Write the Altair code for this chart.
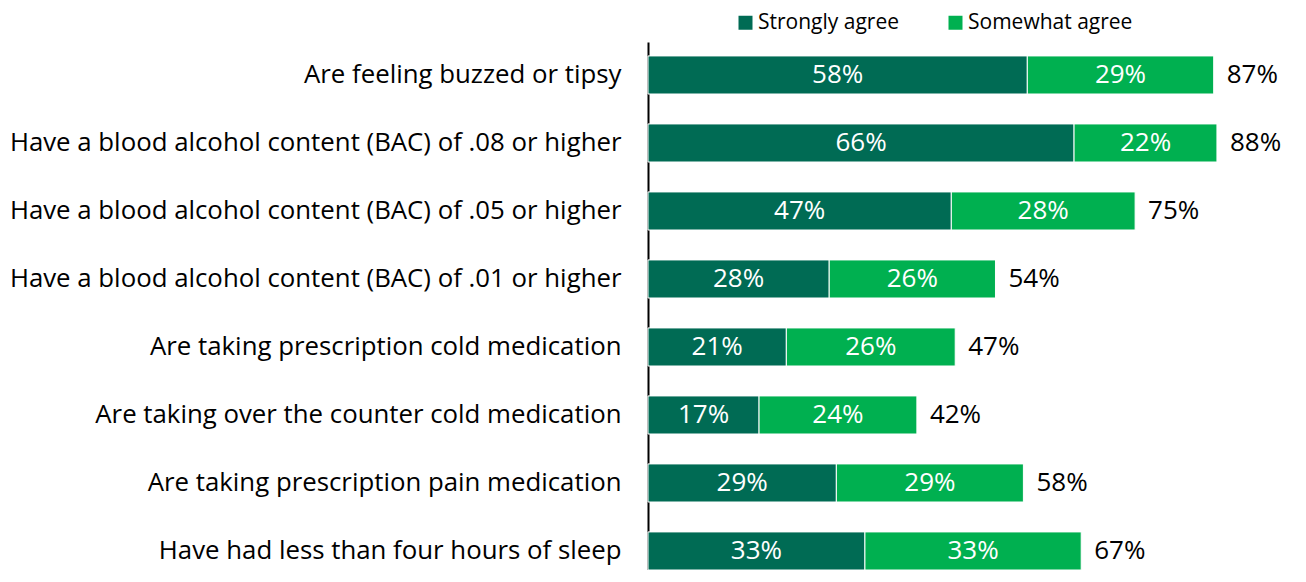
import altair as alt
import pandas as pd

categories = [
    "Are feeling buzzed or tipsy",
    "Have a blood alcohol content (BAC) of .08 or higher",
    "Have a blood alcohol content (BAC) of .05 or higher",
    "Have a blood alcohol content (BAC) of .01 or higher",
    "Are taking prescription cold medication",
    "Are taking over the counter cold medication",
    "Are taking prescription pain medication",
    "Have had less than four hours of sleep",
]
strongly_agree = [58.4, 65.6, 46.7, 27.9, 21.3, 17.1, 29.0, 33.4]
somewhat_agree = [28.7, 22.0, 28.3, 25.6, 26.0, 24.3, 28.8, 33.3]
total_labels = [87, 88, 75, 54, 47, 42, 58, 67]
series_names = ["Strongly agree", "Somewhat agree"]
series_colors = ["#006B54", "#00B050"]

FONT = "Open Sans"
AX_FS = 25.8
FS = 26
LEG_FS = 21

rows = []
for i, c in enumerate(categories):
    rows.append({"category": c, "series": series_names[0], "value": strongly_agree[i], "rank": 0})
    rows.append({"category": c, "series": series_names[1], "value": somewhat_agree[i], "rank": 1})
long_df = pd.DataFrame(rows)
tot_df = pd.DataFrame({
    "category": categories,
    "end": [a + b for a, b in zip(strongly_agree, somewhat_agree)],
    "total": total_labels,
})

x_scale = alt.Scale(domain=[0, 97], nice=False, zero=True)
y_scale = alt.Scale(paddingInner=0.44, paddingOuter=0.1024, align=1)

y_axis = alt.Axis(
    title=None, domainColor="black", domainWidth=2, ticks=False,
    labelFont=FONT, labelFontSize=AX_FS, labelColor="black",
    labelPadding=27, labelLimit=800, grid=False,
)

bars = alt.Chart(long_df).mark_bar(stroke="white", strokeWidth=1).encode(
    x=alt.X("value:Q", stack="zero", scale=x_scale, axis=None),
    y=alt.Y("category:N", sort=categories, scale=y_scale, axis=y_axis),
    color=alt.Color(
        "series:N", sort=series_names,
        scale=alt.Scale(domain=series_names, range=series_colors),
        legend=alt.Legend(
            title=None, orient="none", legendX=87, legendY=-30,
            direction="horizontal", symbolType="square", symbolSize=196,
            symbolStrokeWidth=0, labelFont=FONT, labelFontSize=LEG_FS,
            labelColor="black", labelOffset=2, columnPadding=45,
            labelLimit=400,
        ),
    ),
    order=alt.Order("rank:Q"),
)

seg_labels = alt.Chart(long_df).transform_stack(
    stack="value", groupby=["category"], as_=["x0", "x1"],
    sort=[alt.SortField("rank", order="ascending")],
).transform_calculate(
    mid="(datum.x0 + datum.x1) / 2",
    label="format(datum.value, '.0f') + '%'",
).mark_text(font=FONT, fontSize=FS, color="white", baseline="middle").encode(
    x=alt.X("mid:Q", scale=x_scale, axis=None),
    y=alt.Y("category:N", sort=categories, scale=y_scale, axis=y_axis),
    text="label:N",
)

tot_labels = alt.Chart(tot_df).transform_calculate(
    label="datum.total + '%'"
).mark_text(font=FONT, fontSize=FS, color="black", align="left", baseline="middle", dx=13).encode(
    x=alt.X("end:Q", scale=x_scale, axis=None),
    y=alt.Y("category:N", sort=categories, scale=y_scale, axis=y_axis),
    text="label:N",
)

chart = alt.layer(bars, seg_labels, tot_labels).properties(
    width=630, height=528,
    autosize=alt.AutoSizeParams(type="none"),
    padding={"left": 640, "top": 34, "right": 18, "bottom": 0},
).configure_view(strokeWidth=0)

chart.save("out.html", embed_options={"renderer": "svg", "actions": False})
